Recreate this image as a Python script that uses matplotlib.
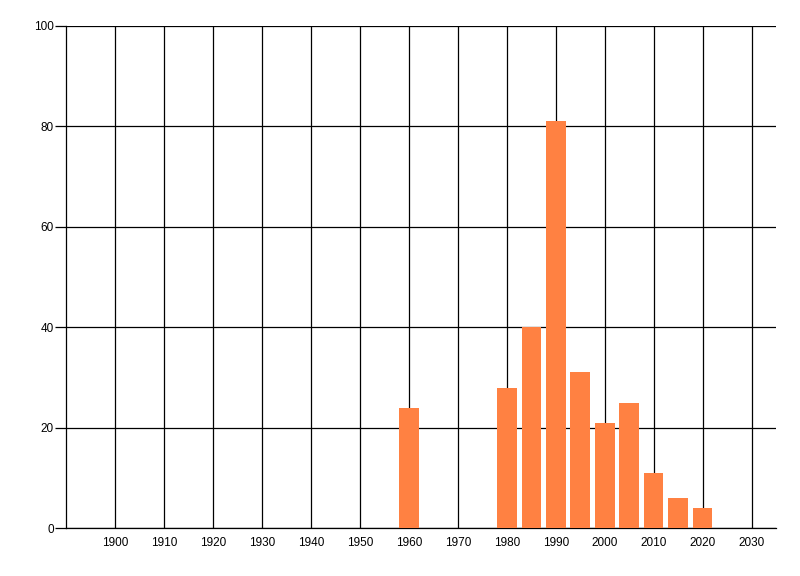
import matplotlib
matplotlib.use('Agg')
import matplotlib.pyplot as plt

plt.rcParams["font.family"] = ["Liberation Sans", "DejaVu Sans"]

# --- Data ---
years = [1960, 1980, 1985, 1990, 1995, 2000, 2005, 2010, 2015, 2020]
counts = [24, 28, 40, 81, 31, 21, 25, 11, 6, 4]
x_ticks = list(range(1900, 2031, 10))
y_ticks = [0, 20, 40, 60, 80, 100]

# --- Plot ---
fig = plt.figure(figsize=(8, 5.76), dpi=100)
ax = fig.add_axes([0.083, 0.083, 0.887, 0.872])

ax.bar(years, counts, width=4, color="#ff8142", zorder=3)

ax.set_xlim(1890, 2035)
ax.set_ylim(0, 100)
ax.set_xticks(x_ticks)
ax.set_yticks(y_ticks)
ax.grid(True, color="black", linewidth=0.9, zorder=1)

for side in ("top", "right"):
    ax.spines[side].set_visible(False)
for side in ("left", "bottom"):
    ax.spines[side].set_linewidth(0.9)

ax.tick_params(axis="x", length=0, pad=6, labelsize=8.5)
ax.tick_params(axis="y", length=8, width=0.9, pad=1, labelsize=8.5)

fig.savefig("out.png", dpi=100)
